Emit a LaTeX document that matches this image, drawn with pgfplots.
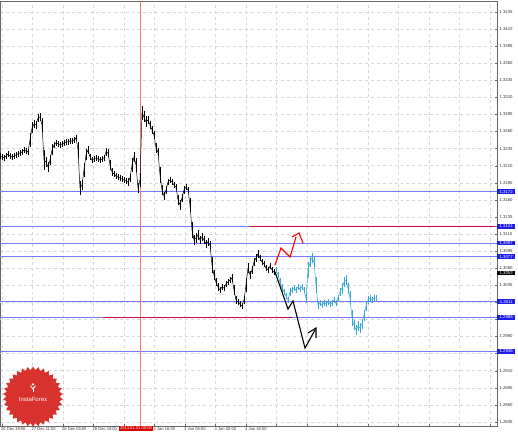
\documentclass[border=0pt]{standalone}
\usepackage{fontspec}
\setmainfont{Liberation Sans}
\usepackage{pgfplots}
\usepackage{pgfplotstable}
\pgfplotsset{compat=1.18}
\usetikzlibrary{shapes.geometric}
\definecolor{lvl}{RGB}{120,120,255}
\definecolor{lvlbox}{RGB}{30,30,235}
\definecolor{crim}{RGB}{210,0,80}
\definecolor{cy}{RGB}{55,170,210}
\definecolor{gridc}{RGB}{215,215,215}
\definecolor{logored}{RGB}{215,50,45}

\pgfplotstableread{
x y e
0 1.32242 0.0004
2 1.32227 0.0004
4 1.32213 0.0004
6 1.32242 0.0004
8 1.32271 0.0004
10 1.32242 0.0004
12 1.32227 0.0004
14 1.32242 0.0004
16 1.32257 0.0004
18 1.32271 0.0004
20 1.32286 0.0004
22 1.32300 0.0004
24 1.32330 0.0005
26 1.32315 0.0004
28 1.32300 0.0005
30 1.32476 0.0010
32 1.32652 0.0008
34 1.32710 0.0006
36 1.32696 0.0006
38 1.32798 0.0006
40 1.32813 0.0006
42 1.32696 0.0010
44 1.32183 0.0015
46 1.32154 0.0008
48 1.32081 0.0008
50 1.32183 0.0008
52 1.32330 0.0008
54 1.32403 0.0005
56 1.32432 0.0005
58 1.32418 0.0004
60 1.32403 0.0004
62 1.32418 0.0004
64 1.32432 0.0004
66 1.32447 0.0004
68 1.32447 0.0004
70 1.32461 0.0004
72 1.32461 0.0004
74 1.32476 0.0004
76 1.32505 0.0005
78 1.32330 0.0012
80 1.31773 0.0010
82 1.31817 0.0008
84 1.32037 0.0010
86 1.32257 0.0008
88 1.32330 0.0006
90 1.32227 0.0005
92 1.32183 0.0005
94 1.32198 0.0004
96 1.32213 0.0004
98 1.32198 0.0004
100 1.32183 0.0004
102 1.32198 0.0004
104 1.32213 0.0005
106 1.32300 0.0006
108 1.32286 0.0006
110 1.32110 0.0008
112 1.32008 0.0006
114 1.31978 0.0005
116 1.31949 0.0005
118 1.31934 0.0004
120 1.31920 0.0004
122 1.31905 0.0004
124 1.31891 0.0005
126 1.31876 0.0005
128 1.31861 0.0006
130 1.31920 0.0006
132 1.32110 0.0010
134 1.32227 0.0008
136 1.32110 0.0010
138 1.31773 0.0008
140 1.31891 0.0010
142 1.32871 0.0010
144 1.32813 0.0008
146 1.32740 0.0008
148 1.32769 0.0006
150 1.32696 0.0006
152 1.32623 0.0006
154 1.32549 0.0006
156 1.32359 0.0008
158 1.32300 0.0006
160 1.31964 0.0012
162 1.31744 0.0008
164 1.31656 0.0006
166 1.31744 0.0006
168 1.31861 0.0005
170 1.31891 0.0005
172 1.31861 0.0005
174 1.31817 0.0005
176 1.31788 0.0005
178 1.31598 0.0008
180 1.31524 0.0008
182 1.31627 0.0006
184 1.31744 0.0006
186 1.31788 0.0005
188 1.31744 0.0005
190 1.31524 0.0010
192 1.31158 0.0012
194 1.31012 0.0008
196 1.31041 0.0008
198 1.31085 0.0008
200 1.31012 0.0006
202 1.31056 0.0006
204 1.31012 0.0006
206 1.30954 0.0006
208 1.30983 0.0006
210 1.30939 0.0006
212 1.30646 0.0012
214 1.30500 0.0008
216 1.30397 0.0006
218 1.30324 0.0006
220 1.30280 0.0005
222 1.30324 0.0005
224 1.30309 0.0005
226 1.30368 0.0005
228 1.30397 0.0005
230 1.30427 0.0005
232 1.30456 0.0006
234 1.30280 0.0008
236 1.30134 0.0006
238 1.30104 0.0005
240 1.30075 0.0005
242 1.30046 0.0005
244 1.30134 0.0006
246 1.30353 0.0010
248 1.30602 0.0008
250 1.30500 0.0006
252 1.30573 0.0006
254 1.30690 0.0006
256 1.30749 0.0006
258 1.30807 0.0006
260 1.30749 0.0005
262 1.30690 0.0005
264 1.30661 0.0005
266 1.30602 0.0005
268 1.30573 0.0005
270 1.30631 0.0005
272 1.30573 0.0004
274 1.30544 0.0004
}\blackdata

\pgfplotstableread{
x y e
276 1.30573 0.0004
278 1.30500 0.0005
280 1.30397 0.0006
282 1.30309 0.0006
284 1.30251 0.0005
286 1.30192 0.0005
288 1.30134 0.0005
290 1.30251 0.0006
292 1.30280 0.0005
294 1.30309 0.0005
296 1.30280 0.0005
298 1.30324 0.0005
300 1.30295 0.0005
302 1.30324 0.0005
304 1.30280 0.0005
306 1.30163 0.0008
308 1.30573 0.0012
310 1.30690 0.0008
312 1.30749 0.0007
314 1.30690 0.0008
316 1.30353 0.0012
318 1.30060 0.0006
320 1.30090 0.0004
322 1.30060 0.0004
324 1.30090 0.0004
326 1.30075 0.0004
328 1.30104 0.0004
330 1.30075 0.0004
332 1.30090 0.0004
334 1.30134 0.0004
336 1.30090 0.0004
338 1.30163 0.0005
340 1.30251 0.0006
342 1.30309 0.0008
344 1.30397 0.0008
346 1.30427 0.0007
348 1.30309 0.0008
350 1.30163 0.0010
352 1.29870 0.0012
354 1.29768 0.0008
356 1.29695 0.0007
358 1.29753 0.0007
360 1.29724 0.0007
362 1.29782 0.0007
364 1.29914 0.0008
366 1.30046 0.0008
368 1.30134 0.0006
370 1.30163 0.0005
372 1.30134 0.0004
374 1.30163 0.0004
376 1.30163 0.0004
}\cyandata

\begin{document}
\begin{tikzpicture}
\begin{axis}[
  at={(0,0)}, anchor=south west,
  scale only axis, width=497bp, height=425bp,
  xmin=0, xmax=497, ymin=1.2829, ymax=1.3451,
  clip=false,
  axis line style={draw=black!60, line width=0.6bp},
  ytick={1.2835,1.2860,1.2885,1.2910,1.2960,1.3035,1.3060,1.3085,1.3110,1.3135,1.3160,1.3185,1.3210,1.3235,1.3260,1.3285,1.3310,1.3335,1.3360,1.3385,1.3410,1.3435},
  extra y ticks={1.2935,1.2985,1.3010},
  extra y tick labels={},
  yticklabel pos=right, ytick pos=right,
  /pgf/number format/fixed,
  /pgf/number format/fixed zerofill,
  /pgf/number format/precision=4,
  /pgf/number format/assume math mode=true,
  yticklabel style={font=\fontsize{4.3}{5}\selectfont, text=black!80, anchor=west, xshift=-1bp},
  xtick={2,32.5,63,93.5,124,154.5,185,215.5,246,276.5,307,337.5,368,398.5,429,459.5,490},
  xticklabels={26 Dec 19:00,27 Dec 11:00,28 Dec 03:00,28 Dec 19:00,,2 Jan 16:00,3 Jan 08:00,4 Jan 00:00,4 Jan 16:00,,,,,,,,},
  xtick pos=bottom,
  xticklabel style={font=\fontsize{4.1}{5}\selectfont, text=black!80, anchor=north west, inner sep=0.5bp, xshift=-1.5bp, yshift=-0.5bp},
  major tick length=2bp,
  tick style={black!60},
  grid=major,
  grid style={gridc, dashed, line width=0.4bp},
]
% level lines
\addplot[lvl, line width=0.7bp] coordinates {(0,1.3172) (497,1.3172)};
\addplot[lvl, line width=0.7bp] coordinates {(0,1.3121) (497,1.3121)};
\addplot[lvl, line width=0.7bp] coordinates {(0,1.3097) (497,1.3097)};
\addplot[lvl, line width=0.7bp] coordinates {(0,1.3077) (497,1.3077)};
\addplot[lvl, line width=0.7bp] coordinates {(0,1.3011) (497,1.3011)};
\addplot[lvl, line width=0.7bp] coordinates {(0,1.2988) (497,1.2988)};
\addplot[lvl, line width=0.7bp] coordinates {(0,1.2938) (497,1.2938)};
% red vertical
\addplot[red!55, line width=0.6bp] coordinates {(140,1.2829) (140,1.3451)};
% price bars
\addplot[black, line width=0.5bp, mark=none,
  error bars/.cd, y dir=both, y explicit, error mark=none,
  error bar style={line width=0.9bp, black}]
  table[x=x, y=y, y error=e] {\blackdata};
\addplot[cy, line width=0.5bp, mark=none,
  error bars/.cd, y dir=both, y explicit, error mark=none,
  error bar style={line width=0.9bp, cy}]
  table[x=x, y=y, y error=e] {\cyandata};
% thick crimson levels
\addplot[draw={rgb,255:red,210;green,0;blue,80}, line width=1.6bp] coordinates {(250,1.3121) (495,1.3121)};
\addplot[draw={rgb,255:red,210;green,0;blue,80}, line width=1.6bp] coordinates {(103,1.29875) (292,1.29875)};
% scenario arrows
\addplot[red, line width=1.1bp] coordinates {(275,1.30646) (281,1.30895) (290,1.30763) (296,1.31056)};
\addplot[red, line width=1.1bp] coordinates {(292,1.31056) (299,1.31115) (303,1.30968)};
\addplot[black, line width=1.1bp] coordinates {(275,1.30544) (288,1.30002) (293,1.30119) (305,1.29431) (315,1.29695)};
\addplot[black, line width=1.1bp] coordinates {(308,1.29651) (316,1.29724) (316,1.29578)};
% right-hand labels
\begin{scope}[every node/.style={font=\fontsize{4.3}{5}\selectfont, inner sep=0.7bp, anchor=west, text=white, minimum width=18bp, align=center}]
\node[fill=lvlbox] at (axis cs:497,1.3172) {1.3172};
\node[fill=lvlbox] at (axis cs:497,1.3121) {1.3121};
\node[fill=lvlbox] at (axis cs:497,1.3097) {1.3097};
\node[fill=lvlbox] at (axis cs:497,1.3077) {1.3077};
\node[fill=black] at (axis cs:497,1.3053) {1.3053};
\node[fill=lvlbox] at (axis cs:497,1.3011) {1.3011};
\node[fill=lvlbox] at (axis cs:497,1.2988) {1.2988};
\node[fill=lvlbox] at (axis cs:497,1.2938) {1.2938};
\end{scope}
% red time box
\node[fill=red!85!black, text=white, anchor=north west, inner sep=0.8bp, font=\fontsize{4.1}{5}\selectfont] at (axis cs:119,1.2829) {2013.01.01 00:00};
% logo
\node[star, star points=34, star point ratio=1.13, fill=logored, minimum size=60bp, inner sep=0] at (axis cs:33,1.28720) {};
\node[text=white, font=\fontsize{6}{7}\selectfont] at (axis cs:33,1.28680) {InstaForex};
\draw[white, line width=1bp] (axis cs:33,1.28790) -- (axis cs:33,1.28860);
\draw[white, line width=0.8bp] (axis cs:30.5,1.28880) -- (axis cs:33,1.28830) -- (axis cs:35.5,1.28880);
\fill[white] (axis cs:33,1.28900) circle (1.3bp);
\end{axis}
\pgfresetboundingbox
\path (0,-8bp) rectangle (518bp,426bp);
\end{tikzpicture}
\end{document}
